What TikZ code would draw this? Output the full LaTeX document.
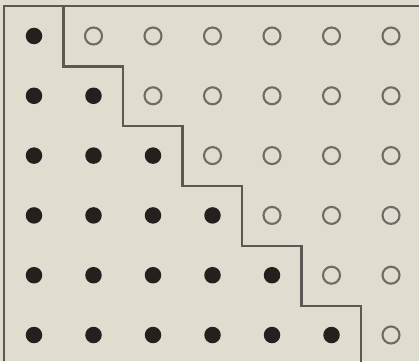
\documentclass[tikz,border=0pt]{standalone}
\usepackage{tikz}
\definecolor{paper}{RGB}{225, 220, 208}
\definecolor{ink}{RGB}{36, 32, 29}
\definecolor{rule}{RGB}{92, 88, 84}
\definecolor{ringgray}{RGB}{112, 107, 101}

\begin{document}
\begin{tikzpicture}[
  x=0.01cm, y=-0.01cm,
  dot/.style={circle, fill=ink, inner sep=0pt, minimum size=0.165cm},
  hole/.style={circle, draw=ringgray, line width=0.6pt, inner sep=0pt, minimum size=0.17cm},
  stair/.style={draw=rule, line width=0.6pt}
]
  \fill[paper] (0,0) rectangle (419,361);
  \useasboundingbox (0,0) rectangle (419,361);

  % frame, left and top only
  \draw[stair] (4,361) -- (4,6) -- (419,6);

  % points of the grid
  \foreach \r in {1,...,6} {
    \foreach \c in {1,...,7} {
      \ifnum\c>\r
        \node[hole] (p\r\c) at ({34+59.5*(\c-1)},{36+59.8*(\r-1)}) {};
      \else
        \node[dot] (p\r\c) at ({34+59.5*(\c-1)},{36+59.8*(\r-1)}) {};
      \fi
    }
  }

  % staircase boundary
  \draw[stair] (63.5,6) |- ++(59.5,60.5)
    \foreach \i in {1,...,4} { |- ++(59.5,59.8) }
    -- ++(0,56);
\end{tikzpicture}
\end{document}
